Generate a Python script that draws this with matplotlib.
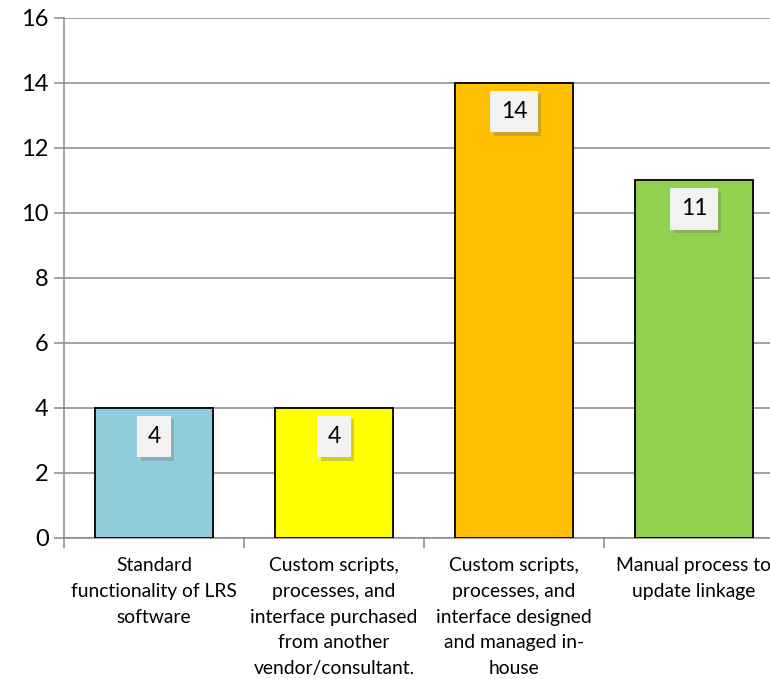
import matplotlib.pyplot as plt
import matplotlib.patheffects as pe

categories = [
    "Standard\nfunctionality of LRS\nsoftware",
    "Custom scripts,\nprocesses, and\ninterface purchased\nfrom another\nvendor/consultant.",
    "Custom scripts,\nprocesses, and\ninterface designed\nand managed in-\nhouse",
    "Manual process to\nupdate linkage",
]
values = [4, 4, 14, 11]
colors = ["#92CDDC", "#FFFF00", "#FFC000", "#92D050"]
y_ticks = [0, 2, 4, 6, 8, 10, 12, 14, 16]

plt.rcParams['font.family'] = ['Lato', 'DejaVu Sans']
grey = "#898989"

fig = plt.figure(figsize=(7.7, 6.79), dpi=100)
ax = fig.add_axes([0.0831, 0.2077, 0.935, 0.7658])

pos = list(range(len(values)))
ax.bar(pos, values, width=0.66, color=colors, edgecolor="black", linewidth=1.3, zorder=3)

# etiquetas de valor con caja y sombra
for x, v in zip(pos, values):
    t = ax.annotate(str(v), (x, v), xytext=(0, -20.5), textcoords="offset points",
                    ha="center", va="center", fontsize=16.5, zorder=5,
                    bbox=dict(boxstyle="square,pad=0.45", fc="#F2F2F2", ec="none"))
    t.get_bbox_patch().set_path_effects([
        pe.SimplePatchShadow(offset=(2.5, -2.5), shadow_rgbFace="#777777", alpha=0.35),
        pe.Normal()])

ax.set_xlim(-0.5, len(values) - 0.5)
ax.set_ylim(0, 16)
ax.set_yticks(y_ticks)
ax.grid(axis="y", color=grey, linewidth=1.1, zorder=0)

ax.set_xticks([i - 0.5 for i in range(len(values) + 1)])
ax.set_xticklabels([])
ax.set_xticks(pos, minor=True)
ax.set_xticklabels(categories, minor=True, fontsize=13.9, linespacing=1.62, va="top")
ax.tick_params(axis="x", which="major", length=7, color=grey, width=1.1)
ax.tick_params(axis="x", which="minor", length=0, pad=14)
ax.tick_params(axis="y", length=7, color=grey, width=1.1, labelsize=17, pad=4)

for s in ["top", "right"]:
    ax.spines[s].set_visible(False)
for s in ["left", "bottom"]:
    ax.spines[s].set_color(grey)
    ax.spines[s].set_linewidth(1.1)

plt.savefig("out.png", dpi=100)
